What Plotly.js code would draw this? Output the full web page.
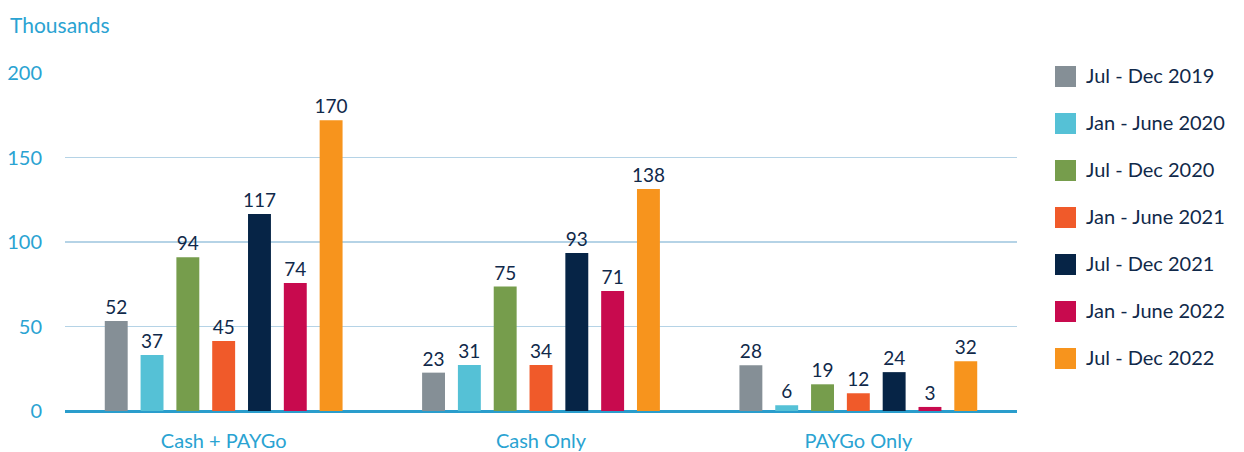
<!DOCTYPE html>
<html>
<head>
<meta charset="utf-8">
<script src="https://cdn.plot.ly/plotly-3.0.1.min.js"></script>
<style>html,body{margin:0;padding:0;background:#fff;}#chart{width:1244px;height:452px;}</style>
</head>
<body>
<div id="chart"></div>
<script>
// ---- data ----
const categories = ['Cash + PAYGo', 'Cash Only', 'PAYGo Only'];
const seriesNames = ['Jul - Dec 2019', 'Jan - June 2020', 'Jul - Dec 2020', 'Jan - June 2021', 'Jul - Dec 2021', 'Jan - June 2022', 'Jul - Dec 2022'];
// bar heights as drawn (thousands)
const julDec2019 = [53.3, 22.7, 27.0];
const janJun2020 = [33.1, 27.2, 3.4];
const julDec2020 = [91.0, 73.6, 15.8];
const janJun2021 = [41.4, 27.2, 10.5];
const julDec2021 = [116.6, 93.5, 23.0];
const janJun2022 = [75.7, 71.0, 2.4];
const julDec2022 = [172.0, 131.4, 29.4];
// printed data labels
const lblJulDec2019 = ['52', '23', '28'];
const lblJanJun2020 = ['37', '31', '6'];
const lblJulDec2020 = ['94', '75', '19'];
const lblJanJun2021 = ['45', '34', '12'];
const lblJulDec2021 = ['117', '93', '24'];
const lblJanJun2022 = ['74', '71', '3'];
const lblJulDec2022 = ['170', '138', '32'];
const yTickVals = [0, 50, 100, 150, 200];

const seriesValues = [julDec2019, janJun2020, julDec2020, janJun2021, julDec2021, janJun2022, julDec2022];
const seriesLabels = [lblJulDec2019, lblJanJun2020, lblJulDec2020, lblJanJun2021, lblJulDec2021, lblJanJun2022, lblJulDec2022];
const colors = ['#858f96', '#55c1d6', '#769d4c', '#f05a2a', '#062446', '#c80a4e', '#f7941d'];

const FONT = 'Lato, "Open Sans", sans-serif';
const NAVY = '#10294a';
const BLUE = '#2aa3d2';

const traces = seriesNames.map((name, i) => ({
  type: 'bar',
  name: name,
  x: categories,
  y: seriesValues[i],
  text: seriesLabels[i],
  textposition: 'outside',
  constraintext: 'none',
  textfont: {family: FONT, size: 19, color: NAVY},
  cliponaxis: false,
  marker: {color: colors[i]},
  hoverinfo: 'skip',
  showlegend: false
}));

// layout geometry (pixels)
const W = 1244, H = 452;
const M = {l: 65, r: 1244 - 1017, t: 73, b: 452 - 411};
const PW = W - M.l - M.r, PH = H - M.t - M.b;
const px = p => (p - M.l) / PW;
const py = p => (H - M.b - p) / PH;

const shapes = [];
const annotations = [];
seriesNames.forEach((name, i) => {
  const top = 66 + 47 * i;
  shapes.push({
    type: 'rect', xref: 'paper', yref: 'paper',
    x0: px(1055), x1: px(1076), y0: py(top + 21), y1: py(top),
    fillcolor: colors[i], line: {width: 0}
  });
  annotations.push({
    xref: 'paper', yref: 'paper', x: px(1084), y: py(top + 9),
    xanchor: 'left', yanchor: 'middle', showarrow: false,
    text: name, font: {family: FONT, size: 20, color: NAVY}
  });
});
annotations.push({
  xref: 'paper', yref: 'paper', x: px(8), y: py(24),
  xanchor: 'left', yanchor: 'middle', showarrow: false,
  text: 'Thousands', font: {family: FONT, size: 21, color: BLUE}
});

const layout = {
  width: W, height: H,
  margin: M,
  paper_bgcolor: '#ffffff', plot_bgcolor: '#ffffff',
  barmode: 'group',
  bargap: 0.21,
  bargroupgap: 0.36,
  showlegend: false,
  font: {family: FONT, color: NAVY},
  xaxis: {
    type: 'category',
    showgrid: false, zeroline: false, showline: false,
    ticks: 'outside', ticklen: 12, tickcolor: 'rgba(0,0,0,0)',
    tickfont: {family: FONT, size: 20, color: BLUE},
    fixedrange: true
  },
  yaxis: {
    range: [0, 200],
    tickvals: yTickVals,
    ticktext: yTickVals.map(String),
    showgrid: true, gridcolor: '#b5d3e6', gridwidth: 1.5,
    zeroline: true, zerolinecolor: '#2a9dcc', zerolinewidth: 3,
    showline: false,
    ticks: 'outside', ticklen: 18, tickcolor: 'rgba(0,0,0,0)',
    tickfont: {family: FONT, size: 20, color: BLUE},
    fixedrange: true
  },
  shapes: shapes,
  annotations: annotations
};

Plotly.newPlot('chart', traces, layout, {displayModeBar: false, staticPlot: true});
</script>
</body>
</html>
